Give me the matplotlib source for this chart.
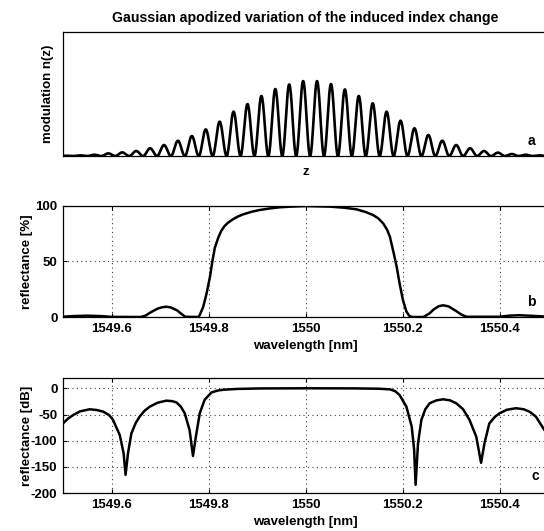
import matplotlib
matplotlib.use('Agg')
import matplotlib.pyplot as plt
import numpy as np

# --- data ---

# a) peak heights of the index modulation fringes (fraction of axis height), left to right
fringe_peaks = [0.002, 0.005, 0.010, 0.021, 0.029, 0.040, 0.062, 0.088, 0.123, 0.161,
                0.214, 0.276, 0.357, 0.418, 0.483, 0.539, 0.576, 0.603, 0.603, 0.579,
                0.536, 0.483, 0.424, 0.357, 0.284, 0.223, 0.169, 0.123, 0.088, 0.062,
                0.040, 0.027, 0.016, 0.010, 0.005]
first_fringe = -3  # position of the first fringe, in fringe periods

# b) reflectance in percent
wl_pct = [1549.50, 1549.52, 1549.55, 1549.58, 1549.60, 1549.66, 1549.67, 1549.68,
          1549.695, 1549.705, 1549.713, 1549.722, 1549.735, 1549.745, 1549.752, 1549.779,
          1549.782, 1549.789, 1549.796, 1549.803, 1549.808, 1549.813, 1549.82, 1549.826,
          1549.833, 1549.84, 1549.85, 1549.86, 1549.871, 1549.89, 1549.906, 1549.925,
          1549.947, 1549.97, 1550.0, 1550.05, 1550.08, 1550.105, 1550.125, 1550.139,
          1550.15, 1550.16, 1550.168, 1550.174, 1550.182, 1550.188, 1550.194, 1550.201,
          1550.208, 1550.214, 1550.219, 1550.243, 1550.255, 1550.265, 1550.275, 1550.284,
          1550.295, 1550.31, 1550.322, 1550.332, 1550.40, 1550.42, 1550.44, 1550.47, 1550.50]
refl_pct = [0.3, 0.8, 1.2, 0.8, 0.1, 0.0, 1.2, 4.0,
            7.5, 8.8, 9.2, 8.6, 6.0, 2.5, 0.2, 0.0,
            1.8, 9.0, 21.0, 36.0, 50.0, 62.0, 71.0, 77.0,
            81.5, 84.5, 87.5, 90.0, 92.0, 94.5, 96.0, 97.3,
            98.4, 99.0, 99.5, 99.0, 98.0, 96.6, 94.0, 91.5,
            88.5, 84.0, 78.5, 72.0, 57.0, 45.0, 30.0, 15.0,
            5.0, 1.0, 0.0, 0.0, 3.0, 7.0, 9.7, 10.5,
            9.5, 5.5, 2.0, 0.2, 0.2, 1.2, 1.6, 1.0, 0.3]

# c) reflectance in dB
wl_db = [1549.50, 1549.51, 1549.521, 1549.535, 1549.555, 1549.57, 1549.583, 1549.595,
         1549.603, 1549.617, 1549.625, 1549.629, 1549.634, 1549.641, 1549.65, 1549.658,
         1549.668, 1549.679, 1549.695, 1549.713, 1549.725, 1549.734, 1549.743, 1549.751,
         1549.761, 1549.768, 1549.774, 1549.782, 1549.792, 1549.806, 1549.818, 1549.831,
         1549.86, 1549.906, 1550.0, 1550.10, 1550.15, 1550.174, 1550.185, 1550.194,
         1550.208, 1550.219, 1550.224, 1550.227, 1550.232, 1550.239, 1550.247, 1550.256,
         1550.27, 1550.284, 1550.298, 1550.311, 1550.325, 1550.338, 1550.352, 1550.362,
         1550.369, 1550.379, 1550.39, 1550.40, 1550.415, 1550.434, 1550.45, 1550.462,
         1550.475, 1550.486, 1550.50]
refl_db = [-67, -58, -51, -44, -40, -41.5, -44.6, -51,
           -60, -89, -124, -165, -124, -86, -66, -54,
           -43, -35, -27.5, -23.6, -24.5, -27, -35, -47.7,
           -79.5, -129, -92, -47.7, -22, -8, -4.5, -2.7,
           -1.2, -0.3, 0, -0.2, -0.8, -2, -5.5, -12.8,
           -35, -73, -117, -184, -105, -60, -40, -28.6,
           -23, -21, -23, -28.6, -40, -60, -92, -142,
           -105, -67, -55, -47.7, -41, -38, -40, -44.6,
           -54, -70, -90]

wl_ticks = [1549.6, 1549.8, 1550.0, 1550.2, 1550.4]
wl_ticklabels = ['1549.6', '1549.8', '1550', '1550.2', '1550.4']

# --- style ---
plt.rcParams['font.family'] = ['Liberation Sans', 'DejaVu Sans']
plt.rcParams['font.weight'] = 'bold'
plt.rcParams['axes.labelweight'] = 'bold'
plt.rcParams['axes.titleweight'] = 'bold'
plt.rcParams['axes.unicode_minus'] = False
plt.rcParams['font.size'] = 9.5
plt.rcParams['axes.labelsize'] = 9.5

W, H = 544, 531
fig = plt.figure(figsize=(W / 100, H / 100), dpi=100)


def px_axes(left, top, right, bottom):
    return fig.add_axes([left / W, (H - bottom) / H, (right - left) / W, (bottom - top) / H])


ax1 = px_axes(63, 31.7, 548, 156)
ax2 = px_axes(63, 205.5, 548, 317)
ax3 = px_axes(63, 377.8, 548, 493.2)

# a) modulation
zs, ns = [], []
for i, amp in enumerate(fringe_peaks):
    k = first_fringe + i
    t = np.linspace(-0.5, 0.5, 40)
    zs.append(k + t)
    ns.append(amp * np.cos(np.pi * t) ** 2)
z = np.concatenate([[first_fringe - 2]] + zs + [[first_fringe + len(fringe_peaks) + 2]])
n = np.concatenate([[0]] + ns + [[0]])
ax1.plot(z, n, color='k', lw=1.9)
ax1.set_xlim(-3.26, 31.6)
ax1.set_ylim(0, 1)
ax1.set_xticks([])
ax1.set_yticks([])
ax1.set_title('Gaussian apodized variation of the induced index change', fontsize=10.2, pad=7)
ax1.set_xlabel('z')
ax1.set_ylabel('modulation n(z)')
ax1.xaxis.set_label_coords(0.5, -0.13)
ax1.yaxis.set_label_coords(-0.031, 0.5)
ax1.text(0.965, 0.123, 'a', transform=ax1.transAxes, ha='center', va='center', fontsize=10)

# b) reflectance %
ax2.plot(wl_pct, refl_pct, color='k', lw=1.8)
ax2.set_ylim(0, 100)
ax2.set_yticks([0, 50, 100])
ax2.set_ylabel('reflectance [%]')
ax2.yaxis.set_label_coords(-0.074, 0.5)
ax2.xaxis.set_label_coords(0.5, -0.26)
ax2.text(0.966, 0.132, 'b', transform=ax2.transAxes, ha='center', va='center', fontsize=10)

# c) reflectance dB
ax3.plot(wl_db, refl_db, color='k', lw=1.8)
ax3.set_ylim(-200, 20)
ax3.set_yticks([-200, -150, -100, -50, 0])
ax3.set_ylabel('reflectance [dB]')
ax3.yaxis.set_label_coords(-0.074, 0.5)
ax3.xaxis.set_label_coords(0.5, -0.25)
ax3.text(0.973, 0.149, 'c', transform=ax3.transAxes, ha='center', va='center', fontsize=10)

for ax in (ax2, ax3):
    ax.set_xlim(1549.5, 1550.5)
    ax.set_xticks(wl_ticks)
    ax.set_xticklabels(wl_ticklabels)
    ax.set_xlabel('wavelength [nm]')
    ax.grid(True, color='0.25', linestyle=(0, (1, 3)), linewidth=0.8)
    ax.tick_params(direction='in', length=3, top=True, right=True, pad=4)
    ax.set_axisbelow(True)

for ax in (ax1, ax2, ax3):
    ax.yaxis.label.set_va('center')
    ax.xaxis.label.set_va('center')
    for s in ax.spines.values():
        s.set_linewidth(0.9)

plt.savefig('out.png', dpi=100)
plt.close()
